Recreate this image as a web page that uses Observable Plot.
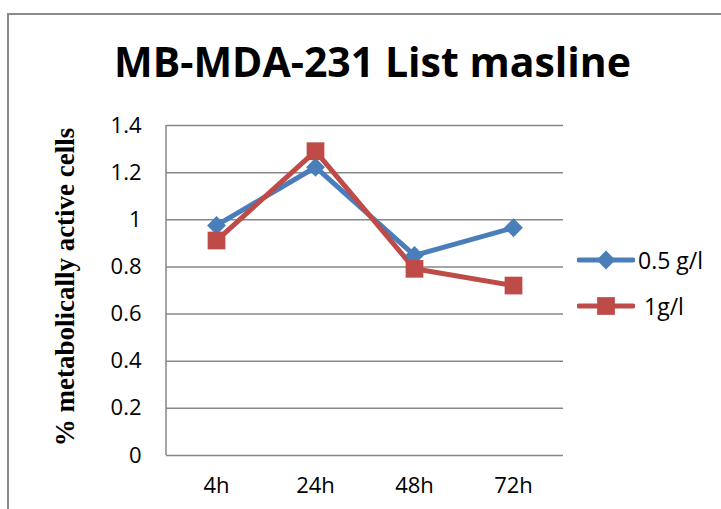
<!DOCTYPE html>
<html><head><meta charset="utf-8">
<script src="https://cdn.jsdelivr.net/npm/d3@7"></script>
<script src="https://cdn.jsdelivr.net/npm/@observablehq/plot@0.6"></script>
<style>
body{margin:0;background:#fff;}
#wrap{position:relative;width:721px;height:509px;overflow:hidden;background:#fff;font-family:"Open Sans",Lato,sans-serif;}
#frame{position:absolute;left:7px;top:13px;width:800px;height:600px;border:2px solid #8a8a8a;box-sizing:border-box;}
#title{position:absolute;left:0;width:745px;top:37px;text-align:center;font-weight:bold;font-size:41px;color:#000;line-height:1.2;}
#ylab{position:absolute;left:65px;top:287px;transform:translate(-50%,-50%) rotate(-90deg);white-space:nowrap;font-family:"Liberation Serif","Times New Roman",serif;font-weight:bold;font-size:27px;color:#000;}
#plot{position:absolute;left:0;top:100px;}
.leg{position:absolute;left:577px;font-size:23px;color:#000;display:flex;align-items:center;height:28px;}
.leg span{margin-left:3px;}
</style></head>
<body><div id="wrap">
<div id="frame"></div>
<div id="title"></div>
<div id="ylab"></div>
<div id="plot"></div>
<div id="legend"></div>
</div>
<script>
const titleText = "MB-MDA-231 List masline";
const yLabel = "% metabolically active cells";
const categories = ["4h", "24h", "48h", "72h"];
const seriesNames = ["0.5 g/l", "1g/l"];
const values05 = [0.976, 1.223, 0.849, 0.966];
const values1 = [0.912, 1.291, 0.792, 0.721];
const yTicks = [0, 0.2, 0.4, 0.6, 0.8, 1, 1.2, 1.4];
const colors = ["#4A7EBB", "#BE4B48"];

document.getElementById("title").textContent = titleText;
document.getElementById("ylab").textContent = yLabel;

const d05 = categories.map((c, i) => ({cat: c, v: values05[i]}));
const d1 = categories.map((c, i) => ({cat: c, v: values1[i]}));

const chart = Plot.plot({
  width: 600, height: 409,
  marginLeft: 166, marginRight: 37, marginTop: 25, marginBottom: 54,
  style: {fontFamily: "'Open Sans', Lato, sans-serif", fontSize: "22px", color: "#000", background: "transparent"},
  x: {type: "point", domain: categories, padding: 0.5, label: null},
  y: {domain: [0, 1.4], label: null},
  marks: [
    Plot.ruleY(yTicks, {stroke: "#878787", strokeWidth: 1.5}),
    Plot.axisY({ticks: yTicks, tickFormat: d => String(d), tickSize: 0, tickPadding: 25, fontSize: 22, label: null}),
    Plot.axisX({tickSize: 0, tickPadding: 22, fontSize: 22, label: null}),
    Plot.line(d05, {x: "cat", y: "v", stroke: colors[0], strokeWidth: 5}),
    Plot.line(d1, {x: "cat", y: "v", stroke: colors[1], strokeWidth: 5}),
    Plot.dot(d05, {x: "cat", y: "v", fill: colors[0], symbol: "diamond2", r: 8.5}),
    Plot.dot(d1, {x: "cat", y: "v", fill: colors[1], symbol: "square", r: 10})
  ]
});
document.getElementById("plot").appendChild(chart);

// left vertical axis line drawn with the chart's own scales
const yScale = chart.scale("y");
const xScale = chart.scale("x");
d3.select(chart).append("line")
  .attr("x1", xScale.range[0]).attr("x2", xScale.range[0])
  .attr("y1", yScale.apply(yTicks[yTicks.length-1])).attr("y2", yScale.apply(0))
  .attr("stroke", "#878787").attr("stroke-width", 1.5);

// legend
const legend = document.getElementById("legend");
seriesNames.forEach((name, i) => {
  const div = document.createElement("div");
  div.className = "leg";
  div.style.top = (i === 0 ? 246 : 292) + "px";
  const sw = d3.create("svg").attr("width", 58).attr("height", 28);
  sw.append("line").attr("x1", 2).attr("x2", 56).attr("y1", 14).attr("y2", 14)
    .attr("stroke", colors[i]).attr("stroke-width", 5).attr("stroke-linecap", "round");
  const sym = d3.symbol(i === 0 ? d3.symbolDiamond2 : d3.symbolSquare, Math.PI * (i === 0 ? 8.5 : 10) ** 2);
  sw.append("path").attr("d", sym()).attr("transform", "translate(29,14)").attr("fill", colors[i]);
  div.appendChild(sw.node());
  const sp = document.createElement("span");
  sp.textContent = name;
  if (i === 1) sp.style.marginLeft = "9px";
  div.appendChild(sp);
  legend.appendChild(div);
});
</script>
</body></html>
